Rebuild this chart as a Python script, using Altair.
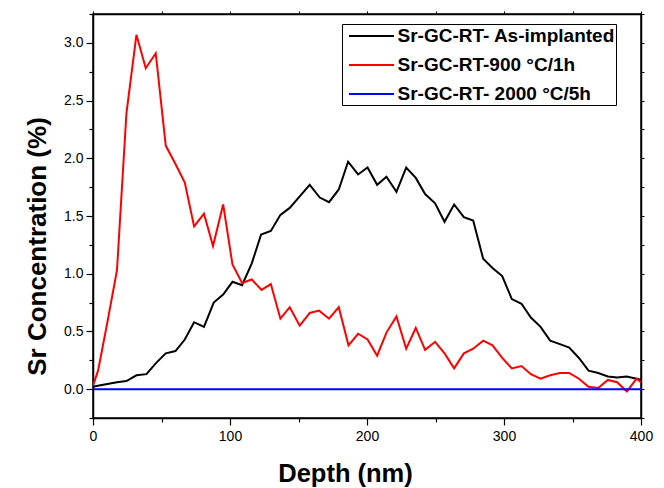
import altair as alt
import pandas as pd

# ---------------- data ----------------
depth_as = [0, 3.5, 10.5, 17.5, 24.4, 31.7, 39.0, 46.3, 53.1, 60.2, 67.0, 73.8, 81.0, 88.1,
            95.0, 101.8, 108.8, 115.9, 122.7, 129.8, 136.8, 143.6, 150.9, 158.2, 165.5,
            172.3, 179.4, 186.2, 193.5, 200.4, 207.4, 214.2, 221.5, 228.6, 235.6, 242.4,
            249.7, 256.6, 263.6, 270.7, 277.5, 284.8, 291.6, 298.7, 305.7, 312.8, 319.6,
            326.7, 333.7, 340.8, 347.6, 354.7, 361.7, 368.8, 375.8, 382.6, 389.5, 396.8, 400]
conc_as = [0.02, 0.03, 0.045, 0.06, 0.07, 0.12, 0.13, 0.23, 0.31, 0.33, 0.43, 0.58, 0.54, 0.75,
           0.82, 0.93, 0.90, 1.09, 1.34, 1.37, 1.51, 1.57, 1.67, 1.77, 1.66,
           1.62, 1.73, 1.97, 1.86, 1.92, 1.77, 1.84, 1.71, 1.92, 1.83, 1.69,
           1.61, 1.45, 1.60, 1.49, 1.46, 1.13, 1.05, 0.98, 0.78, 0.74, 0.62,
           0.54, 0.42, 0.39, 0.36, 0.27, 0.16, 0.14, 0.11, 0.10, 0.11, 0.09, 0.08]

depth_900 = [0, 3.7, 10.5, 17.5, 24.4, 31.7, 38.5, 45.8, 53.1, 60.2, 67.0, 73.8, 81.0, 87.6,
             95.0, 101.8, 108.8, 115.9, 123.0, 129.8, 136.8, 143.6, 150.9, 158.2, 165.0,
             172.3, 179.4, 186.5, 193.5, 200.4, 207.4, 214.2, 221.5, 228.6, 235.6, 242.4,
             249.7, 256.6, 263.6, 270.7, 277.5, 284.8, 291.6, 298.7, 305.7, 312.8, 319.6,
             326.7, 333.7, 340.8, 347.6, 354.7, 361.7, 368.8, 375.8, 382.6, 389.7, 396.8, 400]
conc_900 = [0.03, 0.16, 0.58, 1.03, 2.39, 3.07, 2.78, 2.91, 2.11, 1.95, 1.79, 1.41, 1.52, 1.24,
            1.60, 1.08, 0.92, 0.95, 0.86, 0.91, 0.61, 0.71, 0.55, 0.66, 0.68,
            0.61, 0.71, 0.38, 0.48, 0.43, 0.29, 0.49, 0.63, 0.35, 0.53, 0.34,
            0.41, 0.31, 0.18, 0.31, 0.35, 0.42, 0.38, 0.27, 0.18, 0.20, 0.13,
            0.09, 0.12, 0.14, 0.14, 0.09, 0.02, 0.01, 0.08, 0.06, -0.02, 0.09, 0.06]

depth_2000 = [0, 100, 200, 300, 400]
conc_2000 = [0.0, 0.0, 0.0, 0.0, 0.0]

series_names = ["Sr-GC-RT- As-implanted", "Sr-GC-RT-900 °C/1h", "Sr-GC-RT- 2000 °C/5h"]
series_colors = ["#000000", "#ff0000", "#0000ff"]

x_ticks = [0, 50, 100, 150, 200, 250, 300, 350, 400]
y_ticks = [-0.25, 0.0, 0.25, 0.5, 0.75, 1.0, 1.25, 1.5, 1.75, 2.0, 2.25, 2.5, 2.75, 3.0, 3.25]

# ---------------- build table ----------------
frames = []
for i, (d, c) in enumerate([(depth_as, conc_as), (depth_900, conc_900), (depth_2000, conc_2000)]):
    frames.append(pd.DataFrame({"depth": d, "conc": c, "series": series_names[i], "order": i}))
df = pd.concat(frames, ignore_index=True)

FONT = "Liberation Sans"

x_scale = alt.Scale(domain=[0, 400], nice=False, zero=False)
y_scale = alt.Scale(domain=[-0.25, 3.25], nice=False, zero=False)

x_axis = alt.Axis(
    values=x_ticks,
    labelExpr="datum.value % 100 === 0 ? datum.label : ''",
    tickSize={"condition": {"test": "datum.value % 100 === 0", "value": 7}, "value": 4},
    title="Depth (nm)", titleFontSize=25.5, titleFont=FONT, titleFontWeight="bold",
    titleColor="black", titlePadding=18, titleX=252,
    labelFont=FONT, labelFontSize=14, labelColor="black", labelPadding=4,
    domainColor="black", domainWidth=1.5, tickColor="black", tickWidth=1.2,
    grid=False, labelFlush=False, labelOverlap=False,
)
y_axis = alt.Axis(
    values=y_ticks,
    labelExpr="datum.value % 0.5 === 0 ? format(datum.value, '.1f') : ''",
    tickSize={"condition": {"test": "datum.value % 0.5 === 0", "value": 7}, "value": 4},
    title="Sr Concentration (%)", titleFontSize=26, titleFont=FONT, titleFontWeight="bold",
    titleColor="black", titlePadding=13, titleY=232,
    labelFont=FONT, labelFontSize=14, labelColor="black", labelPadding=3,
    domainColor="black", domainWidth=1.5, tickColor="black", tickWidth=1.2,
    grid=False, labelFlush=False, labelOverlap=False,
)

lines = alt.Chart(df).mark_line(strokeWidth=2, clip=True).encode(
    x=alt.X("depth:Q", scale=x_scale, axis=x_axis),
    y=alt.Y("conc:Q", scale=y_scale, axis=y_axis),
    color=alt.Color(
        "series:N",
        scale=alt.Scale(domain=series_names, range=series_colors),
        legend=alt.Legend(
            title=None, orient="none", legendX=249, legendY=10,
            symbolType="M-2.25,0L2.25,0", symbolStrokeWidth=2, symbolSize=400,
            symbolOffset=17.5, labelOffset=15,
            labelFont=FONT, labelFontSize=19, labelFontWeight="bold", labelColor="black",
            labelLimit=400, padding=1, rowPadding=8,
            strokeColor="black", fillColor="white",
        ),
    ),
    order=alt.Order("order:Q"),
    detail="series:N",
)

frame = alt.Chart(df).mark_line(opacity=0).encode(
    x=alt.X("depth:Q", scale=x_scale, axis=alt.Axis(
        orient="top", values=x_ticks, labels=False, title=None, domainColor="black",
        domainWidth=1.5, tickColor="black", tickSize=3, grid=False)),
    y=alt.Y("conc:Q", scale=y_scale, axis=alt.Axis(
        orient="right", values=y_ticks, labels=False, title=None, domainColor="black",
        domainWidth=1.5, tickColor="black", tickSize=3, grid=False)),
    detail="series:N",
)

chart = alt.layer(lines, frame).resolve_axis(x="independent", y="independent").properties(
    width=548, height=404,
    autosize=alt.AutoSizeParams(type="none"),
    padding={"left": 85, "top": 6, "right": 15, "bottom": 70},
    background="white",
).configure_view(stroke="black", strokeWidth=1.5)

chart.save("out.html", embed_options={"renderer": "svg", "actions": False})
